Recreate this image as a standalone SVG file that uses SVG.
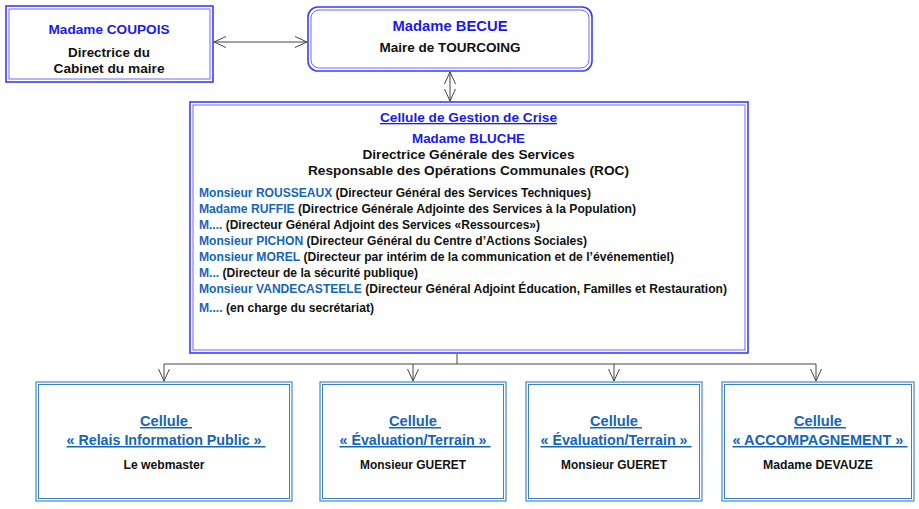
<svg xmlns="http://www.w3.org/2000/svg" width="919" height="509" viewBox="0 0 919 509">
<defs>
<marker id="arr" viewBox="0 0 12 12" refX="12" refY="6" markerWidth="12" markerHeight="12" markerUnits="userSpaceOnUse" orient="auto-start-reverse">
<path d="M0,0.5 L12,6 L0,11.5" fill="none" stroke="#444" stroke-width="1"/>
</marker>
</defs>
<style>
text,tspan{font-family:"Liberation Sans",Arial,sans-serif;font-weight:bold;}
.c{text-anchor:middle;}
.blk{fill:#111;}
.bl{fill:#1a1aee;}
.lb{fill:#1565b8;}
.u{text-decoration:underline;}
.ob{fill:#fff;stroke:#3b3bff;stroke-width:1.6;}
.ib{fill:none;stroke:#6a6aff;stroke-width:1;}
.oc{fill:#fff;stroke:#5a9ad5;stroke-width:1.4;}
.ic{fill:none;stroke:#3f7fc4;stroke-width:1;}
.con{fill:none;stroke:#444;stroke-width:1;}
</style>
<rect width="919" height="509" fill="#fff"/>
<g id="connectors">
<line class="con" x1="214" y1="42" x2="307" y2="42" marker-start="url(#arr)" marker-end="url(#arr)"/>
<line class="con" x1="450" y1="72" x2="450" y2="101" marker-start="url(#arr)" marker-end="url(#arr)"/>
<polyline class="con" points="457,354 457,364 164,364 164,381" marker-end="url(#arr)"/>
<polyline class="con" points="413,364 413,381" marker-end="url(#arr)"/>
<polyline class="con" points="457,364 816,364 816,381" marker-end="url(#arr)"/>
<polyline class="con" points="614,364 614,381" marker-end="url(#arr)"/>
</g>
<g id="coupois">
<rect class="ob" x="6" y="6" width="207" height="76"/>
<rect class="ib" x="9" y="9" width="201" height="70"/>
<text class="c bl" x="109" y="34" font-size="13" textLength="121" lengthAdjust="spacingAndGlyphs">Madame COUPOIS</text>
<text class="c blk" x="109" y="57" font-size="13" textLength="82" lengthAdjust="spacingAndGlyphs">Directrice du</text>
<text class="c blk" x="109" y="73" font-size="13" textLength="111" lengthAdjust="spacingAndGlyphs">Cabinet du maire</text>
</g>
<g id="becue">
<rect class="ob" x="308" y="7" width="284" height="64" rx="10"/>
<rect class="ib" x="311" y="10" width="278" height="58" rx="8"/>
<text class="c bl" x="450" y="31" font-size="14" textLength="115" lengthAdjust="spacingAndGlyphs">Madame BECUE</text>
<text class="c blk" x="450" y="52" font-size="13" textLength="141" lengthAdjust="spacingAndGlyphs">Maire de TOURCOING</text>
</g>
<g id="cgc">
<rect class="ob" x="190" y="102" width="558" height="251"/>
<rect class="ib" x="193" y="105" width="552" height="245"/>
<text class="c bl u" x="468.5" y="122" font-size="13" textLength="177" lengthAdjust="spacingAndGlyphs">Cellule de Gestion de Crise</text>
<text class="c bl" x="468.5" y="143" font-size="13.5" textLength="113" lengthAdjust="spacingAndGlyphs">Madame BLUCHE</text>
<text class="c blk" x="468.5" y="159" font-size="13" textLength="212" lengthAdjust="spacingAndGlyphs">Directrice Générale des Services</text>
<text class="c blk" x="468.5" y="175" font-size="13" textLength="321" lengthAdjust="spacingAndGlyphs">Responsable des Opérations Communales (ROC)</text>
<g font-size="12.5">
<text x="199" y="197" textLength="392" lengthAdjust="spacingAndGlyphs"><tspan class="lb">Monsieur ROUSSEAUX</tspan><tspan class="blk"> (Directeur Général des Services Techniques)</tspan></text>
<text x="199" y="213" textLength="437" lengthAdjust="spacingAndGlyphs"><tspan class="lb">Madame RUFFIE</tspan><tspan class="blk"> (Directrice Générale Adjointe des Services à la Population)</tspan></text>
<text x="199" y="229" textLength="341" lengthAdjust="spacingAndGlyphs"><tspan class="lb">M....</tspan><tspan class="blk"> (Directeur Général Adjoint des Services «Ressources»)</tspan></text>
<text x="199" y="245" textLength="388" lengthAdjust="spacingAndGlyphs"><tspan class="lb">Monsieur PICHON</tspan><tspan class="blk"> (Directeur Général du Centre d’Actions Sociales)</tspan></text>
<text x="199" y="261" textLength="475" lengthAdjust="spacingAndGlyphs"><tspan class="lb">Monsieur MOREL</tspan><tspan class="blk"> (Directeur par intérim de la communication et de l’événementiel)</tspan></text>
<text x="199" y="277" textLength="219" lengthAdjust="spacingAndGlyphs"><tspan class="lb">M...</tspan><tspan class="blk"> (Directeur de la sécurité publique)</tspan></text>
<text x="199" y="293" textLength="528" lengthAdjust="spacingAndGlyphs"><tspan class="lb">Monsieur VANDECASTEELE</tspan><tspan class="blk"> (Directeur Général Adjoint Éducation, Familles et Restauration)</tspan></text>
<text x="199" y="312" textLength="175" lengthAdjust="spacingAndGlyphs"><tspan class="lb">M....</tspan><tspan class="blk"> (en charge du secrétariat)</tspan></text>
</g>
</g>
<g id="relais">
<rect class="oc" x="36" y="382" width="256" height="119"/>
<rect class="ic" x="38.5" y="384.5" width="251" height="114"/>
<text class="c lb u" x="166" y="426" font-size="15" xml:space="preserve" textLength="52" lengthAdjust="spacingAndGlyphs">Cellule </text>
<text class="c lb u" x="166" y="445" font-size="15" xml:space="preserve" textLength="199" lengthAdjust="spacingAndGlyphs">« Relais Information Public » </text>
<text class="c blk" x="164" y="469" font-size="12.5" textLength="81" lengthAdjust="spacingAndGlyphs">Le webmaster</text>
</g>
<g id="evaluation1">
<rect class="oc" x="320" y="382" width="186" height="119"/>
<rect class="ic" x="322.5" y="384.5" width="181" height="114"/>
<text class="c lb u" x="415" y="426" font-size="15" xml:space="preserve" textLength="52" lengthAdjust="spacingAndGlyphs">Cellule </text>
<text class="c lb u" x="415" y="445" font-size="15" xml:space="preserve" textLength="151" lengthAdjust="spacingAndGlyphs">« Évaluation/Terrain » </text>
<text class="c blk" x="413" y="469" font-size="12.5" textLength="106" lengthAdjust="spacingAndGlyphs">Monsieur GUERET</text>
</g>
<g id="evaluation2">
<rect class="oc" x="526" y="382" width="176" height="119"/>
<rect class="ic" x="528.5" y="384.5" width="171" height="114"/>
<text class="c lb u" x="616" y="426" font-size="15" xml:space="preserve" textLength="52" lengthAdjust="spacingAndGlyphs">Cellule </text>
<text class="c lb u" x="616" y="445" font-size="15" xml:space="preserve" textLength="151" lengthAdjust="spacingAndGlyphs">« Évaluation/Terrain » </text>
<text class="c blk" x="614" y="469" font-size="12.5" textLength="106" lengthAdjust="spacingAndGlyphs">Monsieur GUERET</text>
</g>
<g id="accompagnement">
<rect class="oc" x="722" y="382" width="192" height="119"/>
<rect class="ic" x="724.5" y="384.5" width="187" height="114"/>
<text class="c lb u" x="820" y="426" font-size="15" xml:space="preserve" textLength="52" lengthAdjust="spacingAndGlyphs">Cellule </text>
<text class="c lb u" x="820" y="445" font-size="15" xml:space="preserve" textLength="175" lengthAdjust="spacingAndGlyphs">« ACCOMPAGNEMENT » </text>
<text class="c blk" x="818" y="469" font-size="12.5" textLength="110" lengthAdjust="spacingAndGlyphs">Madame DEVAUZE</text>
</g>
</svg>
